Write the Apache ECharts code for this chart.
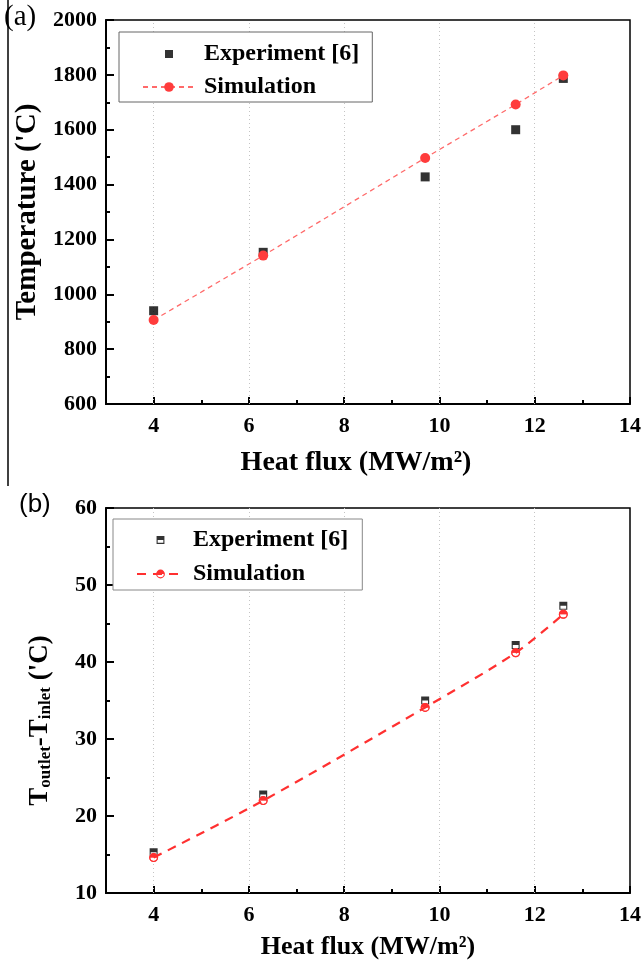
<!DOCTYPE html>
<html>
<head>
<meta charset="utf-8">
<script src="https://cdn.jsdelivr.net/npm/echarts@6/dist/echarts.min.js"></script>
<style>
html, body { margin: 0; padding: 0; background: #fff; }
#chart { width: 644px; height: 964px; }
</style>
</head>
<body>
<div id="chart"></div>
<script>
// Heat flux values (MW/m^2) shared by both panels
const heatFlux = [4.0, 6.3, 9.7, 11.6, 12.6];

// Panel (a): wall temperature ('C)
const tempExperiment = [940, 1153, 1428, 1600, 1787];
const tempSimulation = [906, 1141, 1497, 1692, 1798];

// Panel (b): outlet minus inlet temperature ('C)
const deltaExperiment = [15.3, 22.8, 35.0, 42.2, 47.3];
const deltaSimulation = [14.6, 22.0, 34.1, 41.2, 46.2];

// Axis ticks
const fluxMajorTicks = [4, 6, 8, 10, 12, 14];
const fluxMinorTicks = [5, 7, 9, 11, 13];
const fluxGridLines = [4, 6, 8, 10, 12];

const labelExperiment = 'Experiment [6]';
const labelSimulation = 'Simulation';

const serif = 'Liberation Serif';
const pairs = (ys) => heatFlux.map((x, i) => [x, ys[i]]);

// Half-filled markers: solid top half, outlined bottom half
const halfSquare = 'path://M0,0H10V5H0Z M0,5H10V10H0Z M1.4,5V8.6H8.6V5Z';
const halfCircle = 'path://M0,5A5,5 0 0 1 10,5Z M10,5A5,5 0 0 1 0,5Z M1.3,5A3.7,3.7 0 0 0 8.7,5Z';
const halfSquareIcon = 'path://M-2,-2M12,12M0,0H10V5H0Z M0,5H10V10H0Z M1.4,5V8.6H8.6V5Z';
const squareIcon = 'path://M0,0M12,12M2,2h8v8h-8z';

const grids = [
  { left: 106, top: 20, width: 525, height: 384 },
  { left: 106, top: 508, width: 525, height: 385 }
];

function fluxAxes(gridIndex, nameSize, nameGap, namePad) {
  return [
    {
      type: 'value', gridIndex, min: 3, max: 14, position: 'bottom',
      axisLine: { show: true, onZero: false, lineStyle: { color: '#000', width: 2 } },
      axisTick: { show: true, inside: true, length: 7, customValues: fluxMajorTicks,
                  lineStyle: { color: '#000', width: 2 } },
      axisLabel: {
        customValues: fluxMajorTicks, margin: 11,
        formatter: (v) => String(v),
        color: '#000', fontSize: 22, fontFamily: serif, fontWeight: 'bold'
      },
      splitLine: { show: false },
      name: 'Heat flux (MW/m²)', nameLocation: 'middle', nameGap,
      nameTextStyle: { fontFamily: serif, fontWeight: 'bold', fontSize: nameSize, color: '#000', padding: namePad }
    },
    {
      type: 'value', gridIndex, min: 3, max: 14, position: 'bottom',
      axisLine: { show: false },
      axisTick: { show: true, inside: true, length: 4, customValues: fluxMinorTicks,
                  lineStyle: { color: '#000', width: 2 } },
      axisLabel: { show: false },
      splitLine: { show: false }
    }
  ];
}

function valueAxis(gridIndex, min, max, interval, name, nameSize, nameGap, namePad) {
  return {
    type: 'value', gridIndex, min, max, interval,
    axisLine: { show: true, onZero: false, lineStyle: { color: '#000', width: 2 } },
    axisTick: { show: true, inside: true, length: 8, lineStyle: { color: '#000', width: 2 } },
    minorTick: { show: true, splitNumber: 2, length: 4, lineStyle: { color: '#000', width: 2 } },
    axisLabel: {
      margin: 9,
      formatter: (v) => String(v),
      color: '#000', fontSize: 22, fontFamily: serif, fontWeight: 'bold'
    },
    splitLine: { show: false },
    name, nameLocation: 'middle', nameRotate: 90, nameGap,
    nameTextStyle: {
      fontFamily: serif, fontWeight: 'bold', fontSize: nameSize, color: '#000', padding: namePad,
      rich: {
        big: { fontFamily: serif, fontWeight: 'bold', fontSize: 27, color: '#000', lineHeight: 30, verticalAlign: 'bottom' },
        sub: { fontFamily: serif, fontWeight: 'bold', fontSize: 17, color: '#000', lineHeight: 14, verticalAlign: 'bottom' }
      }
    }
  };
}

const gridLineMarks = {
  silent: true, symbol: 'none', z: 1, animation: false,
  label: { show: false },
  lineStyle: { color: '#c4c4c4', type: [1, 3], width: 1 },
  emphasis: { disabled: true },
  data: fluxGridLines.map(v => ({ xAxis: v }))
};

const legendBase = {
  orient: 'vertical', borderColor: '#666', borderWidth: 1, backgroundColor: '#fff',
  selectedMode: false,
  textStyle: { fontFamily: serif, fontWeight: 'bold', fontSize: 24, color: '#000', lineHeight: 20, padding: [0, 0, 0, 4] }
};

const displayNames = {
  'dT experiment': labelExperiment,
  'dT simulation': labelSimulation
};

const option = {
  animation: false,
  backgroundColor: '#fff',
  grid: grids.map(g => Object.assign({ show: true, borderColor: '#000', borderWidth: 1.5, backgroundColor: 'transparent' }, g)),
  xAxis: [
    ...fluxAxes(0, 28, 45, [0, 24, 0, 0]),
    ...fluxAxes(1, 26, 41, [0, 0, 0, 0])
  ],
  yAxis: [
    valueAxis(0, 600, 2000, 200, "Temperature ('C)", 29, 60, [0, 0, 0, 0]),
    valueAxis(1, 10, 60, 10, "{big|T}{sub|outlet}{big|-T}{sub|inlet}{big| ('C)}", 27, 52, [0, 40, 0, 0])
  ],
  legend: [
    Object.assign({}, legendBase, {
      left: 119, top: 32, itemWidth: 52, itemHeight: 12, itemGap: 9,
      padding: [10, 13, 3, 23],
      data: [{ name: labelExperiment, icon: squareIcon }, { name: labelSimulation }]
    }),
    Object.assign({}, legendBase, {
      left: 113, top: 519, itemWidth: 47, itemHeight: 11, itemGap: 10,
      borderColor: '#888',
      padding: [9, 14, 4, 23],
      formatter: (n) => displayNames[n] || n,
      data: [{ name: 'dT experiment', icon: halfSquareIcon }, { name: 'dT simulation' }]
    })
  ],
  graphic: [
    { type: 'line', shape: { x1: 8, y1: 0, x2: 8, y2: 486 }, style: { stroke: '#000', lineWidth: 1.5 } },
    { type: 'text', left: 4, top: 3,
      style: { text: '(a)', fontFamily: serif, fontSize: 29, fill: '#000' } },
    { type: 'text', left: 19, top: 492,
      style: { text: '(b)', fontFamily: 'Liberation Sans', fontSize: 26, fill: '#000' } }
  ],
  series: [
    // Panel (a)
    {
      name: labelExperiment, type: 'scatter', xAxisIndex: 0, yAxisIndex: 0,
      symbol: 'rect', symbolSize: 9, itemStyle: { color: '#000' },
      data: pairs(tempExperiment), markLine: gridLineMarks
    },
    {
      name: labelSimulation, type: 'line', xAxisIndex: 0, yAxisIndex: 0,
      symbol: 'circle', symbolSize: 10, showSymbol: true,
      itemStyle: { color: '#ff3c3c' },
      lineStyle: { color: '#ff6a6a', width: 1.3, type: [5, 4] },
      data: pairs(tempSimulation)
    },
    // Panel (b)
    {
      name: 'dT simulation', type: 'line', xAxisIndex: 2, yAxisIndex: 1,
      smooth: 0.3, symbol: halfCircle, symbolSize: 9, showSymbol: true,
      itemStyle: { color: '#ff3030' },
      lineStyle: { color: '#ff3030', width: 2.2, type: [9, 7] },
      data: pairs(deltaSimulation), markLine: gridLineMarks
    },
    {
      type: 'scatter', xAxisIndex: 2, yAxisIndex: 1, silent: true,
      symbol: 'rect', symbolSize: 8, itemStyle: { color: '#fff' },
      data: pairs(deltaExperiment)
    },
    {
      name: 'dT experiment', type: 'scatter', xAxisIndex: 2, yAxisIndex: 1,
      symbol: halfSquare, symbolSize: 8, itemStyle: { color: '#000' },
      data: pairs(deltaExperiment)
    },
    {
      type: 'scatter', xAxisIndex: 2, yAxisIndex: 1, silent: true,
      symbol: 'circle', symbolSize: 9, itemStyle: { color: '#fff' },
      data: pairs(deltaSimulation)
    },
    {
      type: 'scatter', xAxisIndex: 2, yAxisIndex: 1, silent: true,
      symbol: halfCircle, symbolSize: 9, itemStyle: { color: '#ff3030' },
      data: pairs(deltaSimulation)
    }
  ]
};

const chart = echarts.init(document.getElementById('chart'), null, { renderer: 'canvas' });
chart.setOption(option);
</script>
</body>
</html>
